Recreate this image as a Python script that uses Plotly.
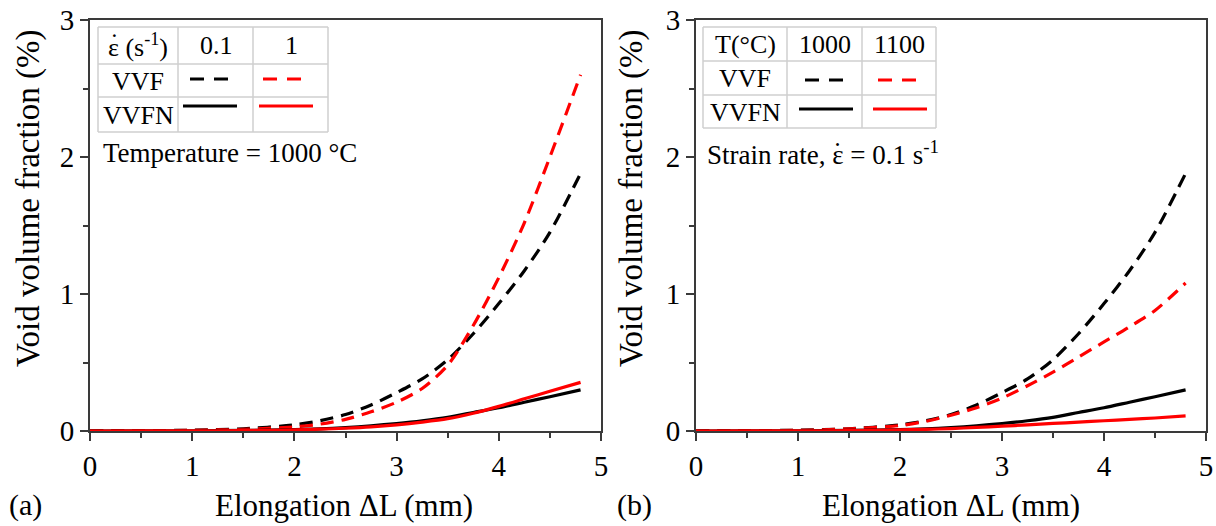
import plotly.graph_objects as go

# ---------------- data ----------------
x_vals = [0, 0.5, 1, 1.5, 2, 2.25, 2.5, 2.75, 3, 3.25, 3.5, 3.75, 4, 4.25, 4.5, 4.8]

# panel (a): T = 1000 C, strain rate 0.1 s-1 (black) and 1 s-1 (red)
a_vvf_01 = [0, 0.002, 0.006, 0.016, 0.045, 0.075, 0.12, 0.19, 0.28, 0.38, 0.52, 0.71, 0.93, 1.17, 1.45, 1.88]
a_vvf_1 = [0, 0.002, 0.005, 0.012, 0.03, 0.05, 0.085, 0.14, 0.21, 0.31, 0.48, 0.77, 1.12, 1.52, 2.00, 2.60]
a_vvfn_01 = [0, 0.0005, 0.001, 0.004, 0.01, 0.016, 0.025, 0.038, 0.055, 0.075, 0.10, 0.135, 0.17, 0.21, 0.25, 0.30]
a_vvfn_1 = [0, 0.0005, 0.001, 0.003, 0.008, 0.013, 0.02, 0.03, 0.045, 0.065, 0.09, 0.13, 0.18, 0.235, 0.29, 0.355]

# panel (b): strain rate 0.1 s-1, T = 1000 C (black) and 1100 C (red)
b_vvf_1000 = [0, 0.002, 0.006, 0.016, 0.045, 0.075, 0.12, 0.19, 0.28, 0.38, 0.52, 0.71, 0.93, 1.17, 1.45, 1.88]
b_vvf_1100 = [0, 0.002, 0.005, 0.015, 0.04, 0.07, 0.115, 0.17, 0.24, 0.33, 0.43, 0.54, 0.65, 0.76, 0.88, 1.08]
b_vvfn_1000 = [0, 0.0005, 0.001, 0.004, 0.01, 0.016, 0.025, 0.038, 0.055, 0.075, 0.10, 0.135, 0.17, 0.21, 0.25, 0.30]
b_vvfn_1100 = [0, 0.0005, 0.001, 0.003, 0.008, 0.012, 0.018, 0.026, 0.035, 0.045, 0.055, 0.065, 0.075, 0.085, 0.095, 0.11]

x_ticks = [0, 1, 2, 3, 4, 5]
y_ticks = [0, 1, 2, 3]

# ---------------- layout helpers ----------------
W, H = 1216, 526
FONT = "Liberation Serif"
BLACK, RED = "#000000", "#ff0000"
DASH = "13px,8px"
AXC = "#3a3a3a"


def px(x):
    return x / W


def py(y):
    return 1 - y / H


fig = go.Figure()

series = [
    ("x", "y", a_vvf_01, BLACK, DASH),
    ("x", "y", a_vvf_1, RED, DASH),
    ("x", "y", a_vvfn_01, BLACK, "solid"),
    ("x", "y", a_vvfn_1, RED, "solid"),
    ("x2", "y2", b_vvf_1000, BLACK, DASH),
    ("x2", "y2", b_vvf_1100, RED, DASH),
    ("x2", "y2", b_vvfn_1000, BLACK, "solid"),
    ("x2", "y2", b_vvfn_1100, RED, "solid"),
]
for xa, ya, ys, col, dash in series:
    fig.add_trace(go.Scatter(x=x_vals, y=ys, xaxis=xa, yaxis=ya, mode="lines",
                             line=dict(color=col, width=3.2, dash=dash, shape="spline", smoothing=0.8),
                             showlegend=False, hoverinfo="skip"))

top, bottom = 20, 431
ydom = [py(bottom), py(top)]
axis_common = dict(showline=True, linecolor=AXC, linewidth=2, mirror=True,
                   ticks="outside", ticklen=8, tickwidth=1.5, tickcolor=AXC,
                   showgrid=False, zeroline=False, ticklabeloverflow="allow",
                   minor=dict(ticks="outside", ticklen=5, tickwidth=1.5, dtick=0.5, tickcolor=AXC),
                   tickfont=dict(family=FONT, size=29, color="#000000"), automargin=False)

fig.update_layout(
    width=W, height=H, margin=dict(l=0, r=0, t=0, b=0),
    plot_bgcolor="white", paper_bgcolor="white",
    xaxis=dict(domain=[px(90), px(601)], range=[0, 5], tickvals=x_ticks, anchor="y", **axis_common),
    yaxis=dict(domain=ydom, range=[0, 3], tickvals=y_ticks, anchor="x", **axis_common),
    xaxis2=dict(domain=[px(696), px(1206)], range=[0, 5], tickvals=x_ticks, anchor="y2", **axis_common),
    yaxis2=dict(domain=ydom, range=[0, 3], tickvals=y_ticks, anchor="x2", **axis_common),
)

ann = []
shapes = []


def text(x, y, s, size=26, xanchor="center", yanchor="middle", angle=0):
    ann.append(dict(x=px(x), y=py(y), xref="paper", yref="paper", text=s, showarrow=False,
                    xanchor=xanchor, yanchor=yanchor, textangle=angle,
                    font=dict(family=FONT, size=size, color="#000000")))


def seg(x0, y0, x1, y1, color, width, dash="solid"):
    shapes.append(dict(type="line", xref="paper", yref="paper", x0=px(x0), y0=py(y0),
                       x1=px(x1), y1=py(y1), line=dict(color=color, width=width, dash=dash)))


# axis titles and panel labels
text(344, 505, "Elongation ΔL (mm)", size=31)
text(951, 505, "Elongation ΔL (mm)", size=31)
text(28, 198, "Void volume fraction (%)", size=33, angle=-90)
text(631, 198, "Void volume fraction (%)", size=33, angle=-90)
text(25, 505, "(a)", size=30)
text(634, 505, "(b)", size=30)

GRID = "#cfcfcf"


def table(xs, ys):
    for xv in xs:
        seg(xv, ys[0], xv, ys[-1], GRID, 1.5)
    for yv in ys:
        seg(xs[0], yv, xs[-1], yv, GRID, 1.5)


# panel (a) legend table
ax_ = [98, 178, 253, 328]
ay_ = [27, 64, 97, 132]
table(ax_, ay_)
text(138, 46, "ε (s<sup>-1</sup>)")
text(114, 43, "˙")
text(216, 46, "0.1")
text(291, 46, "1")
text(138, 81, "VVF")
text(138, 115, "VVFN")
seg(190, 79, 234, 79, BLACK, 3.2, "14px,10px")
seg(263, 79, 307, 79, RED, 3.2, "14px,10px")
seg(183, 106, 237, 106, BLACK, 3.2)
seg(259, 106, 313, 106, RED, 3.2)
text(101, 153, "Temperature = 1000 °C", size=27, xanchor="left")

# panel (b) legend table
bx_ = [703, 787, 862, 936]
by_ = [27, 61, 95, 128]
table(bx_, by_)
text(745, 44, "T(°C)")
text(825, 44, "1000")
text(899, 44, "1100")
text(745, 78, "VVF")
text(745, 112, "VVFN")
seg(805, 80, 849, 80, BLACK, 3.2, "14px,10px")
seg(878, 80, 922, 80, RED, 3.2, "14px,10px")
seg(799, 109, 853, 109, BLACK, 3.2)
seg(873, 109, 927, 109, RED, 3.2)
text(705, 153, "Strain rate, ε = 0.1 s<sup>-1</sup>", size=27, xanchor="left")
text(837, 152, "˙", size=27)

fig.update_layout(annotations=ann, shapes=shapes)
fig.write_html("out.html", config={"displayModeBar": False},
               post_script="document.body.style.margin='0';")
